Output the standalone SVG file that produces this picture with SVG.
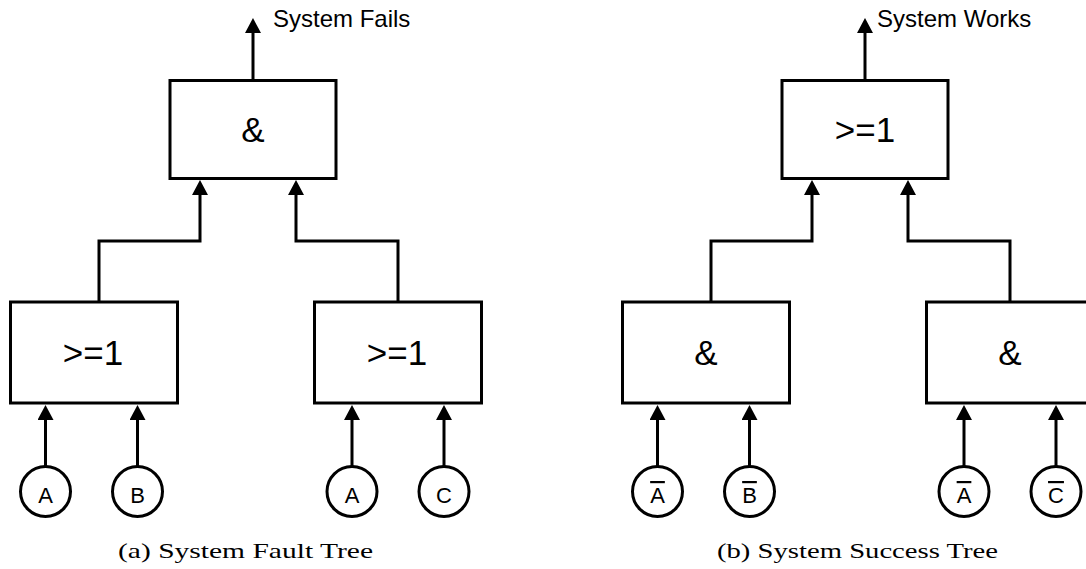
<svg xmlns="http://www.w3.org/2000/svg" width="1086" height="569" viewBox="0 0 1086 569">
  <style>
    .gate { fill: #fff; stroke: #000; stroke-width: 3; }
    .event { fill: #fff; stroke: #000; stroke-width: 3; }
    .wire { fill: none; stroke: #000; stroke-width: 3; marker-end: url(#head); }
    .glabel { font-family: "Liberation Sans", Arial, sans-serif; font-size: 35px; text-anchor: middle; fill: #000; }
    .elabel { font-family: "Liberation Sans", Arial, sans-serif; font-size: 22px; text-anchor: middle; fill: #000; }
    .neg { text-decoration: overline; }
    .out { font-family: "Liberation Sans", Arial, sans-serif; font-size: 24px; fill: #000; }
    .cap { font-family: "Liberation Serif", "Times New Roman", serif; font-size: 22px; text-anchor: middle; fill: #000; }
  </style>
  <defs>
    <marker id="head" markerUnits="userSpaceOnUse" viewBox="0 0 15 16" markerWidth="15" markerHeight="16" refX="5" refY="8" orient="auto">
      <path d="M0,0 L15,8 L0,16 z" fill="#000"/>
    </marker>
  </defs>

  <rect width="1086" height="569" fill="#fff"/>

  <!-- connectors -->
  <g id="connectors">
    <!-- fault tree -->
    <polyline class="wire" points="253,80 253,28"/>
    <polyline class="wire" points="99,302 99,241 200,241 200,190"/>
    <polyline class="wire" points="398,302 398,241 296,241 296,190"/>
    <polyline class="wire" points="45.5,466 45.5,415"/>
    <polyline class="wire" points="137.5,466 137.5,415"/>
    <polyline class="wire" points="352,466 352,415"/>
    <polyline class="wire" points="444,466 444,415"/>
    <!-- success tree -->
    <polyline class="wire" points="865,80 865,28"/>
    <polyline class="wire" points="711,302 711,241 812,241 812,190"/>
    <polyline class="wire" points="1010,302 1010,241 908,241 908,190"/>
    <polyline class="wire" points="657.5,466 657.5,415"/>
    <polyline class="wire" points="749.5,466 749.5,415"/>
    <polyline class="wire" points="964,466 964,415"/>
    <polyline class="wire" points="1056,466 1056,415"/>
  </g>

  <!-- fault tree -->
  <g id="fault-top">
    <rect class="gate" x="170" y="80.5" width="166" height="98"/>
    <text class="glabel" x="253" y="142">&amp;</text>
    <text class="out" x="273" y="27">System Fails</text>
  </g>
  <g id="fault-or-left">
    <rect class="gate" x="10.5" y="302" width="167" height="101"/>
    <text class="glabel" x="93" y="365">&gt;=1</text>
  </g>
  <g id="fault-or-right">
    <rect class="gate" x="314.5" y="302" width="167" height="101"/>
    <text class="glabel" x="397" y="365">&gt;=1</text>
  </g>
  <g id="fault-a1"><circle class="event" cx="45.5" cy="491.5" r="25"/><text class="elabel" x="45.5" y="503">A</text></g>
  <g id="fault-b"><circle class="event" cx="137.5" cy="491.5" r="25"/><text class="elabel" x="137.5" y="503">B</text></g>
  <g id="fault-a2"><circle class="event" cx="352" cy="491.5" r="25"/><text class="elabel" x="352" y="503">A</text></g>
  <g id="fault-c"><circle class="event" cx="444" cy="491.5" r="25"/><text class="elabel" x="444" y="503">C</text></g>
  <text class="cap" x="245.5" y="558" textLength="255" lengthAdjust="spacingAndGlyphs">(a) System Fault Tree</text>

  <!-- success tree -->
  <g id="success-top">
    <rect class="gate" x="782" y="80.5" width="166" height="98"/>
    <text class="glabel" x="865" y="142">&gt;=1</text>
    <text class="out" x="877" y="27">System Works</text>
  </g>
  <g id="success-and-left">
    <rect class="gate" x="622.5" y="302" width="167" height="101"/>
    <text class="glabel" x="706" y="365">&amp;</text>
  </g>
  <g id="success-and-right">
    <rect class="gate" x="926.5" y="302" width="167" height="101"/>
    <text class="glabel" x="1010" y="365">&amp;</text>
  </g>
  <g id="success-na1"><circle class="event" cx="657.5" cy="491.5" r="25"/><text class="elabel neg" x="657.5" y="503">A</text></g>
  <g id="success-nb"><circle class="event" cx="749.5" cy="491.5" r="25"/><text class="elabel neg" x="749.5" y="503">B</text></g>
  <g id="success-na2"><circle class="event" cx="964" cy="491.5" r="25"/><text class="elabel neg" x="964" y="503">A</text></g>
  <g id="success-nc"><circle class="event" cx="1056" cy="491.5" r="25"/><text class="elabel neg" x="1056" y="503">C</text></g>
  <text class="cap" x="857.5" y="558" textLength="281" lengthAdjust="spacingAndGlyphs">(b) System Success Tree</text>
</svg>
